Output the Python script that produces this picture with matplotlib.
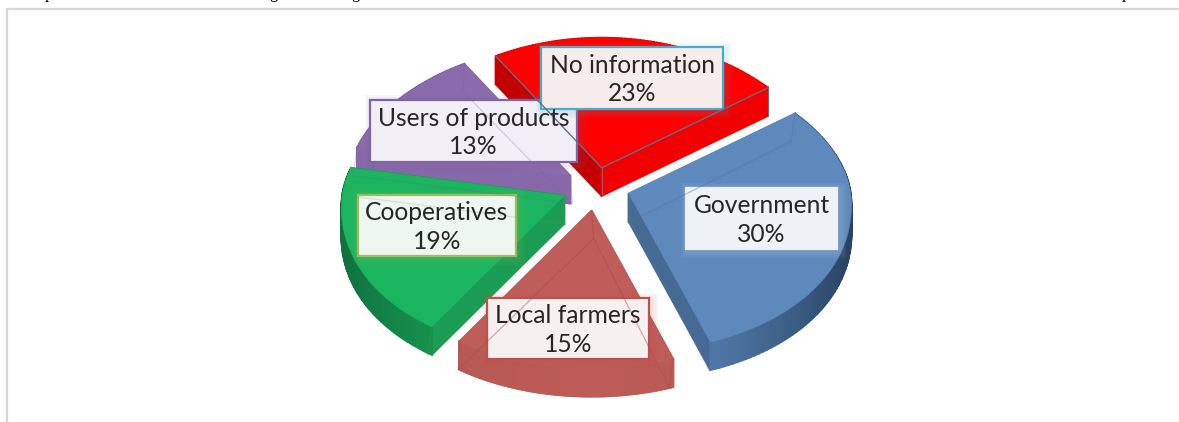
import numpy as np
import matplotlib
matplotlib.use('Agg')
import matplotlib.pyplot as plt
from matplotlib.patches import Polygon, Rectangle

# pie values, clockwise from the upper right
categories = ['Government', 'Local farmers', 'Cooperatives', 'Users of products', 'No information']
percents = [30, 15, 19, 13, 23]

# look of each slice: top face, the two cut faces, outer rim (light, dark), edge lines
slice_style = {
    'Government': dict(top='#5d89bd', start='#5d89bd', end='#466a94', rim=('#5a86ba', '#27405f'), edge='#4f75a3', ghost=0.4),
    'Local farmers': dict(top='#be5d59', start='#b95a56', end='#b95a56', rim=('#bc5b57', '#b35450'), edge='#a84a47', ghost=0.45),
    'Cooperatives': dict(top='#1bb55f', start='#1a9c54', end='#1b9a52', rim=('#1aa85a', '#0f6f3c'), edge='#6f9a45', ghost=0.2),
    'Users of products': dict(top='#8a6bac', start='#8768a8', end='#8768a8', rim=('#8768a8', '#7a5d9a'), edge='#7c5f9e', ghost=0.25),
    'No information': dict(top='#fe0000', start='#c40000', end='#f00000', rim=('#e80000', '#e80000'), edge='#5f6f8c', ghost=0),
}

# label boxes: left, top, right, bottom in pixels, border colour, fill
label_boxes = {
    'No information': (541, 47, 723, 109, '#4bacc6', '#f7ecec'),
    'Users of products': (370, 100, 577, 162, '#8064a2', '#f1eef6'),
    'Cooperatives': (358, 195, 516, 256, '#a5b85c', '#edf6f0'),
    'Government': (686, 188, 837, 249, '#eef1f6', '#eef1f6'),
    'Local farmers': (487, 298, 649, 359, '#c0504d', '#f7f0f0'),
}

# pie projection
cx, cy = 596, 187
rx, ry_back, ry_front = 222, 130, 158
depth = 28
explode = 0.15
start_angle = 38


def project(theta, r=1.0):
    # flattened circle, nearer part drawn a little bigger
    s = np.sin(theta)
    x = r * rx * np.cos(theta) * (1 - 0.08 * s)
    y = -r * s * np.where(s > 0, ry_back, ry_front)
    return x, y


def shade(c1, c2, t):
    a = np.array(matplotlib.colors.to_rgb(c1))
    b = np.array(matplotlib.colors.to_rgb(c2))
    return tuple(a + (b - a) * t)


def draw_slice(ax, name, a0, a1):
    st = slice_style[name]
    mid = np.radians((a0 + a1) / 2)
    ox, oy = project(np.array(mid), explode)
    x0, y0 = cx + ox, cy + oy

    th = np.radians(np.linspace(a0, a1, 90))
    ax_pts, ay_pts = project(th)
    ax_pts = x0 + ax_pts
    ay_pts = y0 + ay_pts

    # sides first, the ones further back before the nearer ones
    faces = []
    for i in range(len(th) - 1):
        quad = [(ax_pts[i], ay_pts[i]), (ax_pts[i + 1], ay_pts[i + 1]),
                (ax_pts[i + 1], ay_pts[i + 1] + depth), (ax_pts[i], ay_pts[i] + depth)]
        t = abs(np.cos(th[i])) ** 1.5
        faces.append((np.mean([p[1] for p in quad]), quad, shade(st['rim'][0], st['rim'][1], t)))
    for px, py, col in [(ax_pts[0], ay_pts[0], st['start']), (ax_pts[-1], ay_pts[-1], st['end'])]:
        quad = [(x0, y0), (px, py), (px, py + depth), (x0, y0 + depth)]
        faces.append((np.mean([p[1] for p in quad]), quad, col))
    for _, quad, col in sorted(faces, key=lambda f: f[0]):
        ax.add_patch(Polygon(quad, closed=True, fc=col, ec=col, lw=1.4))

    top = [(x0, y0)] + list(zip(ax_pts, ay_pts))
    ax.add_patch(Polygon(top, closed=True, fc=st['top'], ec=st['top'], lw=0.4))

    # bottom corners showing faintly through the top face
    if st['ghost'] > 0:
        inner = [(ax_pts[0] - 4, ay_pts[0] + depth), (x0 + 2, y0 + depth), (ax_pts[-1] - 1, ay_pts[-1] + depth)]
        ax.plot(*zip(*inner), color=st['edge'], lw=0.9, alpha=st['ghost'])
        ax.plot([x0, x0 + 2], [y0, y0 + depth], color=st['edge'], lw=0.9, alpha=st['ghost'])
        ax.plot([ax_pts[0], ax_pts[0] - 4], [ay_pts[0], ay_pts[0] + depth], color=st['edge'], lw=0.9, alpha=st['ghost'])
        ax.plot([ax_pts[-1], ax_pts[-1] - 1], [ay_pts[-1], ay_pts[-1] + depth], color=st['edge'], lw=0.9, alpha=st['ghost'])
    else:
        ax.plot([ax_pts[0], x0, ax_pts[-1]], [ay_pts[0], y0, ay_pts[-1]], color=st['edge'], lw=1.0)
        ax.plot([x0, x0], [y0, y0 + depth], color=st['edge'], lw=0.8)
        ax.plot([ax_pts[-1], ax_pts[-1]], [ay_pts[-1], ay_pts[-1] + depth], color=st['edge'], lw=0.8)


fig = plt.figure(figsize=(11.79, 4.22), dpi=100)
ax = fig.add_axes([0, 0, 1, 1])
ax.set_xlim(0, 1179)
ax.set_ylim(422, 0)
ax.axis('off')

# page frame and the bit of text line above it
ax.plot([6.5, 6.5, 1179], [422, 8.5, 8.5], color='#d8d8d8', lw=1.6, solid_joinstyle='miter')
for x, ch in [(49, 'p'), (273, 'g'), (355, 'g'), (1126, 'p')]:
    ax.text(x, -1.5, ch, fontsize=12, family='Liberation Serif', ha='center', va='baseline', color='black')

# slice angles from the percentages
angles = {}
a = start_angle
for name, pct in zip(categories, percents):
    angles[name] = (a, a - pct * 3.6)
    a -= pct * 3.6

for name in ['No information', 'Users of products', 'Government', 'Cooperatives', 'Local farmers']:
    draw_slice(ax, name, *angles[name])

# labels with a soft glow behind the box
for name, pct in zip(categories, percents):
    l, t, r, b, border, fill = label_boxes[name]
    for g in [7, 5, 3]:
        ax.add_patch(Rectangle((l - g + 2, t - g + 2), r - l + 2 * g, b - t + 2 * g,
                               fc=border, ec='none', alpha=0.05))
    ax.add_patch(Rectangle((l, t), r - l, b - t, fc=fill, ec=border, lw=1.6))
    ax.text((l + r) / 2, (t + b) / 2 + 1.5, f'{name}\n{pct}%', fontsize=17.7, family='Lato',
            ha='center', va='center', color='#262626', linespacing=1.27)

fig.savefig('out.png', dpi=100)
